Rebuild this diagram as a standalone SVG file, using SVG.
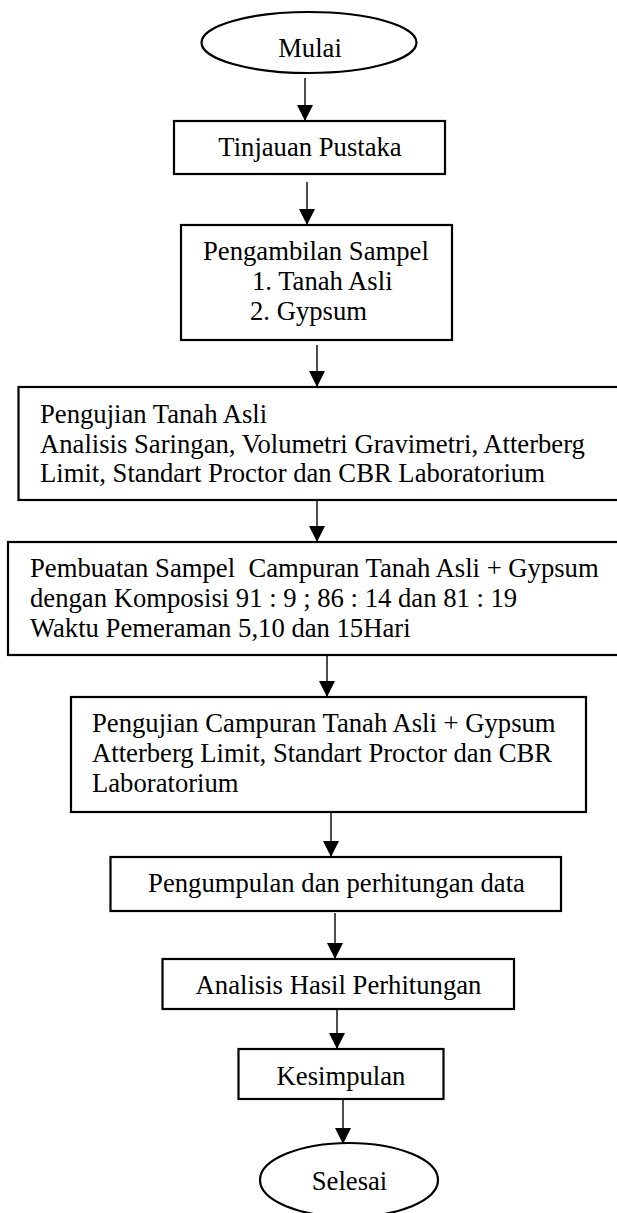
<svg xmlns="http://www.w3.org/2000/svg" width="617" height="1213" viewBox="0 0 617 1213">
<style>
  .box{fill:#fff;stroke:#000;stroke-width:2.2}
  .t{font-family:"Liberation Serif","Times New Roman",serif;font-size:26.67px;fill:#000;white-space:pre}
  .c{text-anchor:middle}
  .conn line{stroke:#000;stroke-width:1.4;fill:none}
</style>
<defs>
  <marker id="ah" markerUnits="userSpaceOnUse" markerWidth="18" markerHeight="16" refX="16" refY="8" orient="auto">
    <path d="M0,0 L16,8 L0,16 Z" fill="#000"/>
  </marker>
</defs>
<rect width="617" height="1213" fill="#fff"/>
<g class="conn" id="connectors">
  <line x1="305" y1="78" x2="305" y2="121" marker-end="url(#ah)"/>
  <line x1="307" y1="182" x2="307" y2="225" marker-end="url(#ah)"/>
  <line x1="317" y1="345" x2="317" y2="387" marker-end="url(#ah)"/>
  <line x1="317" y1="500" x2="317" y2="542" marker-end="url(#ah)"/>
  <line x1="327" y1="655" x2="327" y2="697" marker-end="url(#ah)"/>
  <line x1="331" y1="812" x2="331" y2="857" marker-end="url(#ah)"/>
  <line x1="335" y1="913" x2="335" y2="959" marker-end="url(#ah)"/>
  <line x1="337" y1="1009" x2="337" y2="1049" marker-end="url(#ah)"/>
  <line x1="343" y1="1099" x2="343" y2="1144" marker-end="url(#ah)"/>
</g>
<g id="mulai">
  <ellipse class="box" cx="309" cy="42.5" rx="107.5" ry="30.5"/>
  <text class="t c" x="310" y="57">Mulai</text>
</g>
<g id="tinjauan">
  <rect class="box" x="174" y="121" width="271" height="53"/>
  <text class="t c" x="310" y="156">Tinjauan Pustaka</text>
</g>
<g id="pengambilan">
  <rect class="box" x="181" y="225" width="271" height="115"/>
  <text class="t" x="203" y="260">Pengambilan Sampel</text>
  <text class="t" x="252" y="290">1. Tanah Asli</text>
  <text class="t" x="250" y="320">2. Gypsum</text>
</g>
<g id="pengujian-tanah">
  <rect class="box" x="18.5" y="387" width="610" height="113"/>
  <text class="t" x="40" y="423">Pengujian Tanah Asli</text>
  <text class="t" x="40" y="453">Analisis Saringan, Volumetri Gravimetri, Atterberg</text>
  <text class="t" x="40" y="482">Limit, Standart Proctor dan CBR Laboratorium</text>
</g>
<g id="pembuatan">
  <rect class="box" x="8" y="542" width="620" height="113"/>
  <text class="t" x="30" y="577">Pembuatan Sampel  Campuran Tanah Asli + Gypsum</text>
  <text class="t" x="30" y="607">dengan Komposisi 91 : 9 ; 86 : 14 dan 81 : 19</text>
  <text class="t" x="30" y="637">Waktu Pemeraman 5,10 dan 15Hari</text>
</g>
<g id="pengujian-campuran">
  <rect class="box" x="71" y="697" width="515" height="115"/>
  <text class="t" x="92" y="732">Pengujian Campuran Tanah Asli + Gypsum</text>
  <text class="t" x="92" y="762">Atterberg Limit, Standart Proctor dan CBR</text>
  <text class="t" x="92" y="792">Laboratorium</text>
</g>
<g id="pengumpulan">
  <rect class="box" x="110.5" y="857" width="450.5" height="54"/>
  <text class="t c" x="336.5" y="892">Pengumpulan dan perhitungan data</text>
</g>
<g id="analisis">
  <rect class="box" x="162.5" y="959" width="351.5" height="50"/>
  <text class="t c" x="338.5" y="994">Analisis Hasil Perhitungan</text>
</g>
<g id="kesimpulan">
  <rect class="box" x="238.5" y="1049" width="205" height="50"/>
  <text class="t c" x="341" y="1085">Kesimpulan</text>
</g>
<g id="selesai">
  <ellipse class="box" cx="349" cy="1180" rx="89" ry="37"/>
  <text class="t c" x="349.5" y="1190">Selesai</text>
</g>
</svg>
